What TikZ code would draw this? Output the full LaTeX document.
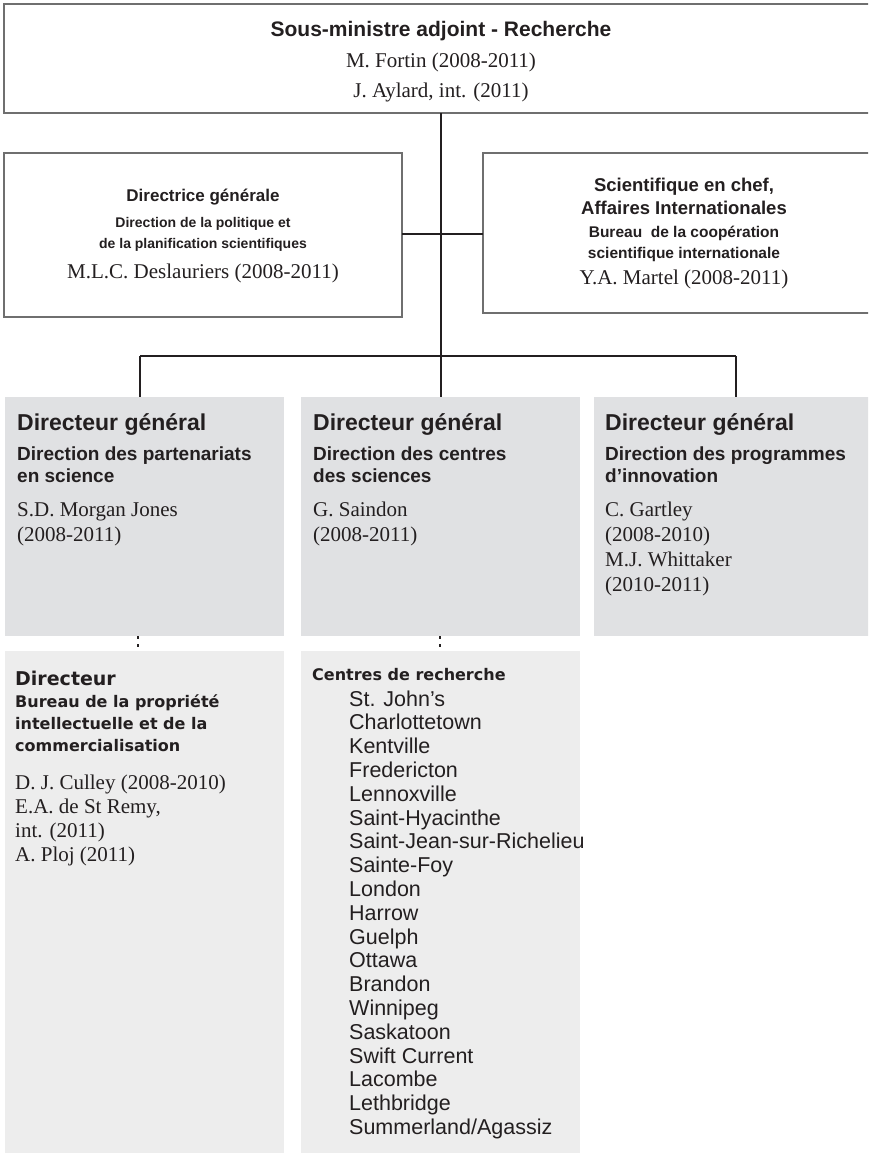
\documentclass[tikz,border=0pt]{standalone}
\usepackage{fontspec}
\setmainfont{Liberation Serif}
\newfontfamily\hsans{Liberation Sans}
\newfontfamily\lsans{DejaVu Sans}
\definecolor{ink}{HTML}{231F20}
\definecolor{edgegray}{HTML}{6F6F6F}
\definecolor{gfill}{HTML}{E0E1E3}
\definecolor{lfill}{HTML}{EDEDED}
\newcommand{\fsz}[1]{\fontsize{#1}{#1}\selectfont}
\begin{document}
\begin{tikzpicture}[x=1pt,y=-1pt,
  wbox/.style={draw=edgegray, line width=2pt, fill=white, inner sep=0pt, outer sep=0pt, anchor=north west},
  gbox/.style={fill=gfill, inner sep=0pt, outer sep=0pt, anchor=north west},
  lbox/.style={fill=lfill, inner sep=0pt, outer sep=0pt, anchor=north west},
  conn/.style={draw=ink, line width=2pt},
  dotsline/.style={draw=ink, line width=2.2pt, dash pattern=on 2.5pt off 5.5pt},
  tx/.style={inner sep=0pt, text=ink, anchor=base},
  txl/.style={inner sep=0pt, text=ink, anchor=base west},
  ttl/.style={font=\hsans\bfseries\fsz{21}},
  nm/.style={font=\rmfamily\fsz{21}},
  hA/.style={font=\hsans\bfseries\fsz{17}},
  sA/.style={font=\hsans\bfseries\fsz{14}},
  hR/.style={font=\hsans\bfseries\fsz{18.5}},
  sR/.style={font=\hsans\bfseries\fsz{15.5}},
  hB/.style={font=\hsans\bfseries\fsz{23}},
  sB/.style={font=\hsans\bfseries\fsz{19}},
  hC/.style={font=\lsans\bfseries\fsz{19}},
  sC/.style={font=\lsans\bfseries\fsz{16}},
  lC/.style={font=\hsans\fsz{21.5}}
]
\useasboundingbox (0,0) rectangle (868,1154);
\clip (0,0) rectangle (868,1154);
\fill[white] (0,0) rectangle (868,1154);

% boxes
\node[wbox, minimum width=874pt, minimum height=109pt] (top) at (4,4) {};
\node[wbox, minimum width=398pt, minimum height=164pt] (left) at (4,153) {};
\node[wbox, minimum width=402pt, minimum height=160pt] (right) at (483,153) {};
\node[gbox, minimum width=279pt, minimum height=239pt] (g1) at (5,397) {};
\node[gbox, minimum width=279pt, minimum height=239pt] (g2) at (301,397) {};
\node[gbox, minimum width=280pt, minimum height=239pt] (g3) at (594,397) {};
\node[lbox, minimum width=279pt, minimum height=502pt] (l1) at (5,651) {};
\node[lbox, minimum width=279pt, minimum height=502pt] (l2) at (301,651) {};

% connectors
\coordinate (bus) at (441,356);
\coordinate (busl) at (140,356);
\coordinate (busr) at (736,356);
\draw[conn] (top.south) -- (bus);
\draw[conn] (left.east |- 0,234) -- (right.west |- 0,234);
\draw[conn] (busl) -- (busr);
\draw[conn] (busl) -- (busl |- g1.north);
\draw[conn] (bus) -- (bus |- g2.north);
\draw[conn] (busr) -- (busr |- g3.north);
\coordinate (d1) at (138,636);
\coordinate (d2) at (440,636);
\draw[dotsline] (d1) -- (d1 |- l1.north);
\draw[dotsline] (d2) -- (d2 |- l2.north);

% top box text
\node[tx, ttl] (t1) at (441,36) {Sous-ministre adjoint - Recherche};
\node[tx, nm] (t2) at (441,67) {M. Fortin (2008-2011)};
\node[tx, nm] (t3) at (441,97) {J. Aylard, int. (2011)};

% left box
\node[tx, hA] (a1) at (203,201) {Directrice générale};
\node[tx, sA] (a2) at (203,227) {Direction de la politique et};
\node[tx, sA] (a3) at (203,248) {de la planification scientifiques};
\node[tx, nm] (a4) at (203,278) {M.L.C. Deslauriers (2008-2011)};

% right box
\node[tx, hR] (b1) at (684,191) {Scientifique en chef,};
\node[tx, hR] (b2) at (684,214) {Affaires Internationales};
\node[tx, sR] (b3) at (684,237) {Bureau\ \ de la coopération};
\node[tx, sR] (b4) at (684,258) {scientifique internationale};
\node[tx, nm] (b5) at (684,284) {Y.A. Martel (2008-2011)};

% gray box 1
\node[txl, hB] (c1) at (17,430) {Directeur général};
\node[txl, sB] (c2) at (17,460) {Direction des partenariats};
\node[txl, sB] (c3) at (17,482) {en science};
\node[txl, nm] (c4) at (17,516) {S.D. Morgan Jones};
\node[txl, nm] (c5) at (17,541) {(2008-2011)};

% gray box 2
\node[txl, hB] (e1) at (313,430) {Directeur général};
\node[txl, sB] (e2) at (313,460) {Direction des centres};
\node[txl, sB] (e3) at (313,482) {des sciences};
\node[txl, nm] (e4) at (313,516) {G. Saindon};
\node[txl, nm] (e5) at (313,541) {(2008-2011)};

% gray box 3
\node[txl, hB] (f1) at (605,430) {Directeur général};
\node[txl, sB] (f2) at (605,460) {Direction des programmes};
\node[txl, sB] (f3) at (605,482) {d’innovation};
\node[txl, nm] (f4) at (605,516) {C. Gartley};
\node[txl, nm] (f5) at (605,541) {(2008-2010)};
\node[txl, nm] (f6) at (605,566) {M.J. Whittaker};
\node[txl, nm] (f7) at (605,591) {(2010-2011)};

% lower left
\node[txl, hC] (h1) at (15,685) {Directeur};
\node[txl, sC] (h2) at (15,707) {Bureau de la propriété};
\node[txl, sC] (h3) at (15,729) {intellectuelle et de la};
\node[txl, sC] (h4) at (15,751) {commercialisation};
\node[txl, nm] (h5) at (15,789) {D. J. Culley (2008-2010)};
\node[txl, nm] (h6) at (15,813) {E.A. de St Remy,};
\node[txl, nm] (h7) at (15,837) {int. (2011)};
\node[txl, nm] (h8) at (15,861) {A. Ploj (2011)};

% centres
\node[txl, sC] (k0) at (312,680) {Centres de recherche};
\foreach \n [count=\i from 0] in {St. John’s, Charlottetown, Kentville, Fredericton, Lennoxville, Saint-Hyacinthe, Saint-Jean-sur-Richelieu, Sainte-Foy, London, Harrow, Guelph, Ottawa, Brandon, Winnipeg, Saskatoon, Swift Current, Lacombe, Lethbridge, Summerland/Agassiz}
  \node[txl, lC] (k\i) at (349,{706+23.8*\i}) {\n};
\end{tikzpicture}
\end{document}
